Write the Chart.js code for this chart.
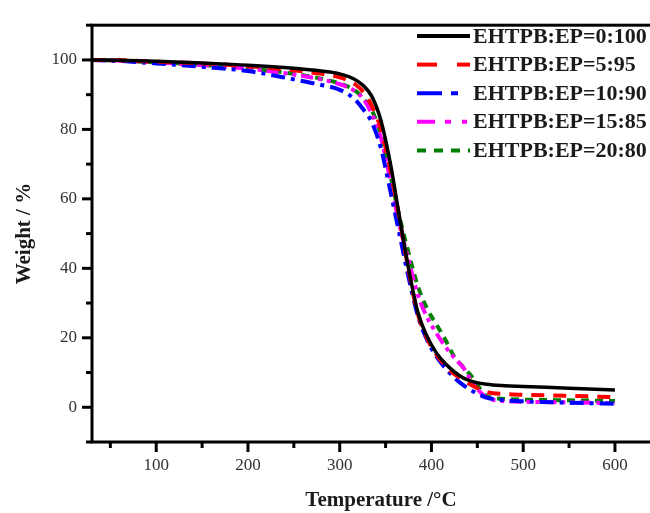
<!DOCTYPE html>
<html lang="en">
<head>
  <meta charset="UTF-8">
  <title>TGA curves</title>
  <style>
    html, body {
      margin: 0;
      padding: 0;
      background: #fff;
      overflow: hidden;
    }
  </style>
</head>
<body>
  <canvas id="tga" width="700" height="513"></canvas>

  <script src="https://cdn.jsdelivr.net/npm/chart.js"></script>
  <script>
    // temperature grid (°C) shared by every curve
    const temps = [30, 60, 100, 150, 200, 250, 280, 300, 315, 325, 335, 345, 355, 365, 375, 385, 395, 405, 415, 425, 435, 445, 460, 480, 500, 550, 600];

    // residual weight (%) for each EHTPB:EP ratio
    const w0_100 = [100, 99.9, 99.6, 99.1, 98.5, 97.6, 96.8, 96.0, 94.6, 92.8, 89.5, 82.5, 70.5, 55.0, 40.0, 27.5, 20.5, 15.8, 12.6, 10.2, 8.4, 7.4, 6.6, 6.2, 6.0, 5.5, 5.0];
    const w5_95 = [100, 99.9, 99.5, 99.0, 98.2, 97.0, 96.0, 95.0, 93.3, 91.0, 86.8, 80.0, 68.5, 54.5, 39.5, 27.0, 20.0, 15.3, 12.0, 9.5, 7.8, 6.2, 4.4, 3.8, 3.6, 3.3, 2.9];
    const w10_90 = [100, 99.7, 99.0, 98.0, 96.8, 94.4, 92.8, 91.4, 89.0, 86.0, 82.0, 74.5, 62.5, 50.0, 37.5, 26.5, 19.5, 14.8, 11.3, 8.5, 6.3, 4.6, 2.8, 2.0, 1.7, 1.3, 1.0];
    const w15_85 = [100, 99.8, 99.3, 98.5, 97.5, 95.8, 94.4, 93.0, 91.3, 89.0, 84.5, 77.5, 65.5, 52.5, 42.5, 32.5, 26.0, 21.5, 17.5, 14.2, 11.3, 7.0, 2.8, 1.8, 1.6, 1.4, 1.2];
    const w20_80 = [100, 99.8, 99.3, 98.6, 97.6, 96.0, 94.6, 93.2, 91.5, 89.2, 85.5, 78.5, 67.0, 55.0, 44.5, 35.0, 28.5, 24.0, 19.5, 14.5, 11.5, 8.5, 3.2, 2.4, 2.2, 2.0, 1.8];

    const seriesLabels = ['EHTPB:EP=0:100', 'EHTPB:EP=5:95', 'EHTPB:EP=10:90', 'EHTPB:EP=15:85', 'EHTPB:EP=20:80'];

    // axis ticks
    const xMajor = [100, 200, 300, 400, 500, 600];
    const xMinor = [50, 150, 250, 350, 450, 550, 650];
    const yMajor = [0, 20, 40, 60, 80, 100];
    const yMinor = [-10, 10, 30, 50, 70, 90, 110];

    const SERIF = '"Liberation Serif", "Times New Roman", serif';

    const styles = [
      { color: '#000000', dash: [], legendDash: [], width: 3.5 },
      { color: '#ff0000', dash: [13, 9], legendDash: [20, 20], width: 4 },
      { color: '#0000ff', dash: [14, 6, 4, 6], legendDash: [25, 9, 7, 20], width: 4 },
      { color: '#ff00ff', dash: [12, 5, 4, 5, 4, 5], legendDash: [18, 10, 6, 11, 5, 10], width: 4 },
      { color: '#008000', dash: [8, 6], legendDash: [9, 8], width: 4 }
    ];

    const weights = [w0_100, w5_95, w10_90, w15_85, w20_80];

    const datasets = weights.map((w, i) => ({
      label: seriesLabels[i],
      data: temps.map((t, j) => ({ x: t, y: w[j] })),
      borderColor: styles[i].color,
      borderWidth: styles[i].width,
      borderDash: styles[i].dash,
      legendDash: styles[i].legendDash,
      pointRadius: 0,
      fill: false,
      cubicInterpolationMode: 'monotone'
    }));

    // frame around the plot plus outward tick marks
    const frameAndTicks = {
      id: 'frameAndTicks',
      afterDraw(chart) {
        const { ctx, chartArea: a, scales: { x, y } } = chart;
        ctx.save();
        ctx.strokeStyle = '#000';
        ctx.lineWidth = 3;
        ctx.setLineDash([]);
        ctx.strokeRect(a.left, a.top, a.right - a.left, a.bottom - a.top);

        const tick = (x1, y1, x2, y2) => {
          ctx.beginPath();
          ctx.moveTo(x1, y1);
          ctx.lineTo(x2, y2);
          ctx.stroke();
        };
        xMajor.forEach(v => { const p = x.getPixelForValue(v); tick(p, a.bottom, p, a.bottom + 10); });
        xMinor.forEach(v => { const p = x.getPixelForValue(v); tick(p, a.bottom, p, a.bottom + 6); });
        yMajor.forEach(v => { const p = y.getPixelForValue(v); tick(a.left, p, a.left - 10, p); });
        yMinor.forEach(v => { const p = y.getPixelForValue(v); tick(a.left, p, a.left - 6, p); });
        ctx.restore();
      }
    };

    // legend in the upper right, line samples keep their dash style
    const lineLegend = {
      id: 'lineLegend',
      afterDraw(chart) {
        const ctx = chart.ctx;
        ctx.save();
        ctx.font = 'bold 22px ' + SERIF;
        ctx.textBaseline = 'middle';
        ctx.fillStyle = '#1a1a1a';
        chart.data.datasets.forEach((ds, i) => {
          const yy = 36 + i * 28.6;
          ctx.beginPath();
          ctx.strokeStyle = ds.borderColor;
          ctx.lineWidth = 4;
          ctx.setLineDash(ds.legendDash);
          ctx.moveTo(417, yy);
          ctx.lineTo(470, yy);
          ctx.stroke();
          ctx.setLineDash([]);
          ctx.fillText(ds.label, 473, yy + 1);
        });
        ctx.restore();
      }
    };

    new Chart(document.getElementById('tga'), {
      type: 'line',
      data: { datasets },
      options: {
        responsive: false,
        animation: false,
        devicePixelRatio: 1,
        layout: { padding: { left: 0, top: 15, right: 30, bottom: 0 } },
        plugins: {
          legend: { display: false },
          tooltip: { enabled: false }
        },
        scales: {
          x: {
            type: 'linear',
            min: 30,
            max: 660,
            afterBuildTicks: s => { s.ticks = xMajor.map(v => ({ value: v })); },
            afterFit: s => { s.height = 71; },
            grid: { display: false, drawTicks: false },
            border: { display: false },
            ticks: {
              padding: 13,
              color: '#333',
              font: { family: SERIF, size: 17 },
              maxRotation: 0
            },
            title: {
              display: true,
              text: 'Temperature /°C',
              color: '#1a1a1a',
              font: { family: SERIF, size: 21, weight: 'bold' },
              padding: { top: 0, bottom: 0 }
            }
          },
          y: {
            type: 'linear',
            min: -10,
            max: 110,
            afterBuildTicks: s => { s.ticks = yMajor.map(v => ({ value: v })); },
            afterFit: s => { s.width = 92; },
            grid: { display: false, drawTicks: false },
            border: { display: false },
            ticks: {
              padding: 15,
              color: '#333',
              font: { family: SERIF, size: 17 }
            },
            title: {
              display: true,
              text: 'Weight / %',
              color: '#1a1a1a',
              font: { family: SERIF, size: 21, weight: 'bold' },
              padding: { top: 12, bottom: 0 }
            }
          }
        }
      },
      plugins: [frameAndTicks, lineLegend]
    });
  </script>
</body>
</html>
